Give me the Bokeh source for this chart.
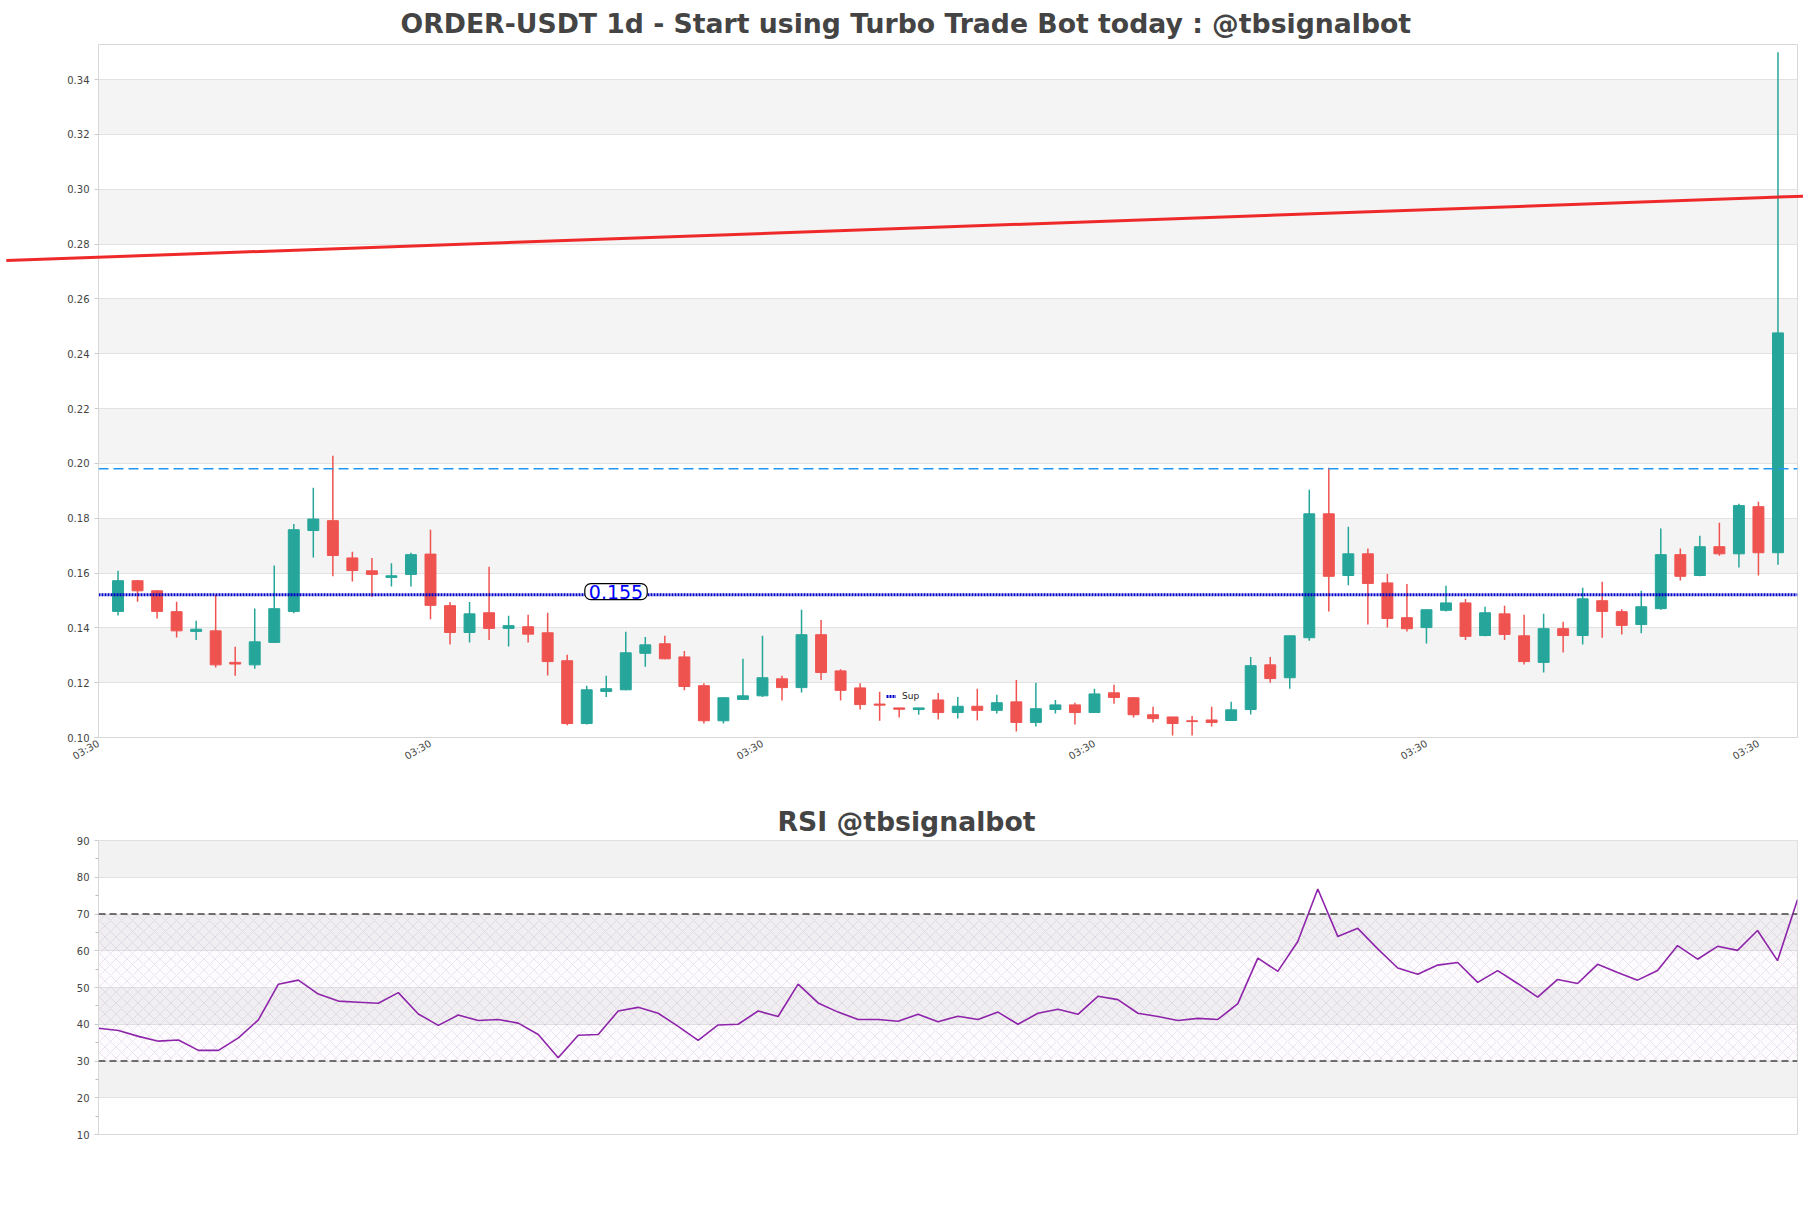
import math
from bokeh.plotting import figure
from bokeh.layouts import column
from bokeh.models import (Range1d, FixedTicker, Label, Span, Legend, LegendItem,
                          ColumnDataSource, BoxAnnotation, PrintfTickFormatter)
from bokeh.embed import file_html
from bokeh.resources import INLINE

TITLE = "ORDER-USDT 1d - Start using Turbo Trade Bot today : @tbsignalbot"
RSI_TITLE = "RSI @tbsignalbot"

opens = [0.1460, 0.1572, 0.1535, 0.1459, 0.1387, 0.1389, 0.1274, 0.1265, 0.1347, 0.1460,
         0.1755, 0.1791, 0.1655, 0.1608, 0.1584, 0.1595, 0.1669, 0.1481, 0.1383, 0.1455,
         0.1398, 0.1404, 0.1382, 0.1280, 0.1051, 0.1168, 0.1174, 0.1307, 0.1342, 0.1294,
         0.1189, 0.1061, 0.1139, 0.1152, 0.1214, 0.1182, 0.1375, 0.1243, 0.1181, 0.1122,
         0.1108, 0.1102, 0.1137, 0.1091, 0.1114, 0.1099, 0.1130, 0.1055, 0.1102, 0.1119,
         0.1091, 0.1163, 0.1145, 0.1083, 0.1075, 0.1061, 0.1064, 0.1062, 0.1102, 0.1265,
         0.1218, 0.1364, 0.1816, 0.1591, 0.1670, 0.1564, 0.1437, 0.1401, 0.1464, 0.1491,
         0.1372, 0.1451, 0.1371, 0.1274, 0.1397, 0.1372, 0.1499, 0.1459, 0.1412, 0.1470,
         0.1667, 0.1591, 0.1696, 0.1670, 0.1842, 0.1674]
highs = [0.1608, 0.1575, 0.1537, 0.1495, 0.1426, 0.1521, 0.1331, 0.1471, 0.1627, 0.1779,
         0.1911, 0.2028, 0.1678, 0.1655, 0.1636, 0.1674, 0.1758, 0.1494, 0.1494, 0.1623,
         0.1444, 0.1448, 0.1455, 0.1302, 0.1189, 0.1225, 0.1386, 0.1367, 0.1371, 0.1316,
         0.1198, 0.1148, 0.1287, 0.1371, 0.1225, 0.1466, 0.1429, 0.1249, 0.1198, 0.1167,
         0.1108, 0.1108, 0.1162, 0.1148, 0.1178, 0.1156, 0.1210, 0.1200, 0.1137, 0.1127,
         0.1178, 0.1192, 0.1148, 0.1112, 0.1075, 0.1078, 0.1112, 0.1130, 0.1294, 0.1294,
         0.1371, 0.1904, 0.1984, 0.1769, 0.1689, 0.1596, 0.1560, 0.1468, 0.1554, 0.1505,
         0.1477, 0.1481, 0.1448, 0.1451, 0.1422, 0.1546, 0.1568, 0.1468, 0.1535, 0.1762,
         0.1689, 0.1736, 0.1783, 0.1853, 0.1860, 0.3500]
lows = [0.1445, 0.1495, 0.1434, 0.1365, 0.1356, 0.1255, 0.1225, 0.1251, 0.1345, 0.1453,
        0.1657, 0.1588, 0.1569, 0.1513, 0.1551, 0.1551, 0.1431, 0.1339, 0.1347, 0.1356,
        0.1332, 0.1347, 0.1226, 0.1045, 0.1047, 0.1148, 0.1172, 0.1258, 0.1285, 0.1172,
        0.1051, 0.1051, 0.1139, 0.1148, 0.1135, 0.1164, 0.1210, 0.1135, 0.1102, 0.1061,
        0.1073, 0.1083, 0.1066, 0.1069, 0.1062, 0.1088, 0.1022, 0.1040, 0.1088, 0.1047,
        0.1091, 0.1123, 0.1073, 0.1055, 0.1007, 0.1007, 0.1040, 0.1062, 0.1084, 0.1200,
        0.1178, 0.1353, 0.1460, 0.1555, 0.1412, 0.1401, 0.1387, 0.1343, 0.1460, 0.1356,
        0.1369, 0.1356, 0.1266, 0.1237, 0.1310, 0.1339, 0.1364, 0.1376, 0.1380, 0.1466,
        0.1573, 0.1588, 0.1663, 0.1620, 0.1591, 0.1630]
closes = [0.1572, 0.1535, 0.1460, 0.1389, 0.1395, 0.1265, 0.1268, 0.1349, 0.1470, 0.1758,
          0.1797, 0.1664, 0.1609, 0.1595, 0.1590, 0.1667, 0.1482, 0.1383, 0.1451, 0.1398,
          0.1408, 0.1377, 0.1277, 0.1051, 0.1174, 0.1178, 0.1309, 0.1338, 0.1287, 0.1186,
          0.1061, 0.1145, 0.1152, 0.1218, 0.1182, 0.1375, 0.1237, 0.1172, 0.1120, 0.1118,
          0.1103, 0.1108, 0.1091, 0.1114, 0.1099, 0.1127, 0.1055, 0.1105, 0.1119, 0.1091,
          0.1159, 0.1146, 0.1083, 0.1069, 0.1051, 0.1058, 0.1055, 0.1101, 0.1262, 0.1215,
          0.1371, 0.1816, 0.1588, 0.1670, 0.1562, 0.1434, 0.1397, 0.1466, 0.1491, 0.1369,
          0.1455, 0.1376, 0.1277, 0.1397, 0.1372, 0.1506, 0.1460, 0.1409, 0.1477, 0.1667,
          0.1588, 0.1696, 0.1670, 0.1846, 0.1674, 0.2476]

x_tick_pos = [-1, 16, 33, 50, 67, 84]
x_tick_labels = ["03:30", "03:30", "03:30", "03:30", "03:30", "03:30"]
price_ticks = [0.10, 0.12, 0.14, 0.16, 0.18, 0.20, 0.22, 0.24, 0.26, 0.28, 0.30, 0.32, 0.34]

sup_level = 0.1521
sup_text = "0.155"
res_level = 0.198
trend_x = [-5.72, 86.85]
trend_y = [0.2740, 0.2976]

rsi_vals = [38.9, 38.3, 36.7, 35.4, 35.7, 32.9, 32.9, 36.3, 41.2, 50.9,
            52.0, 48.2, 46.3, 46.0, 45.7, 48.6, 42.8, 39.7, 42.5, 41.0,
            41.3, 40.3, 37.2, 30.9, 37.0, 37.2, 43.6, 44.6, 43.0, 39.4,
            35.6, 39.8, 40.0, 43.6, 42.1, 50.9, 45.8, 43.3, 41.3, 41.3,
            40.8, 42.7, 40.7, 42.2, 41.3, 43.3, 40.0, 43.0, 44.1, 42.7,
            47.6, 46.7, 43.0, 42.1, 41.0, 41.6, 41.3, 45.6, 58.0, 54.4,
            62.5, 76.8, 63.9, 66.1, 60.5, 55.3, 53.6, 56.1, 56.8, 51.4,
            54.6, 51.1, 47.4, 52.2, 51.1, 56.3, 54.1, 52.0, 54.6, 61.4,
            57.7, 61.2, 60.1, 65.5, 57.3, 73.9]
rsi_ticks = [10, 20, 30, 40, 50, 60, 70, 80, 90]
rsi_minor = [15, 25, 35, 45, 55, 65, 75, 85]
rsi_upper = 70
rsi_lower = 30

UP = "#26a69a"
DOWN = "#ef5350"
TXT = "#444444"
GRID = "#e2e2e2"
BAND = "#f4f4f4"

# canvas geometry (px)
W = 1803
H1, H2 = 788, 380
FL, FR = 98, 6          # frame borders left / right
T1, B1 = 44, 51         # main frame top / bottom borders

n = len(opens)
idx = list(range(n))
src = ColumnDataSource(dict(
    x=idx, h=highs, l=lows,
    top=[max(o, c) for o, c in zip(opens, closes)],
    bottom=[min(o, c) for o, c in zip(opens, closes)],
    color=[UP if c >= o else DOWN for o, c in zip(opens, closes)],
))


def style_title(fig, text, standoff, offset):
    fig.title.text = text
    fig.title.align = "left"
    fig.title.offset = offset
    fig.title.text_font = "DejaVu Sans"
    fig.title.text_font_style = "bold"
    fig.title.text_font_size = "26.7px"
    fig.title.text_color = TXT
    fig.title.standoff = standoff


X0, X1 = -1, 86
Y0, Y1 = 0.10, 0.3528
p = figure(width=W, height=H1, x_range=Range1d(X0, X1), y_range=Range1d(Y0, Y1),
           output_backend="svg", toolbar_location=None,
           min_border_left=FL, min_border_right=FR, min_border_top=T1, min_border_bottom=B1)
style_title(p, TITLE, 10.5, 302)
p.outline_line_color = "#d8d8d8"

p.xgrid.visible = False
p.ygrid.ticker = FixedTicker(ticks=price_ticks)
p.ygrid.grid_line_color = GRID
p.ygrid.band_fill_color = BAND
p.ygrid.band_fill_alpha = 1.0

p.yaxis.ticker = FixedTicker(ticks=price_ticks)
p.yaxis.formatter = PrintfTickFormatter(format="%.2f")
p.xaxis.ticker = FixedTicker(ticks=x_tick_pos)
p.xaxis.major_label_overrides = {t: lab for t, lab in zip(x_tick_pos, x_tick_labels)}
p.xaxis.major_label_orientation = math.pi / 6
for ax in (p.xaxis, p.yaxis):
    ax.axis_line_color = "#d8d8d8"
    ax.major_tick_line_color = "#cccccc"
    ax.minor_tick_line_color = None
    ax.major_tick_in = 0
    ax.major_tick_out = 4
    ax.major_label_text_font = "DejaVu Sans"
    ax.major_label_text_font_size = "10px"
    ax.major_label_text_color = TXT
p.xaxis.major_tick_out = 0

p.add_layout(Span(location=res_level, dimension="width", line_color="#2196f3",
                  line_width=1.5, line_dash="10 5"))

p.segment(x0="x", y0="h", x1="x", y1="l", line_color="color", line_width=1.5, source=src)
p.vbar(x="x", width=0.56, top="top", bottom="bottom", fill_color="color",
       line_color="color", line_width=1, source=src)

sup = p.line(x=[X0, X1], y=[sup_level, sup_level], line_color="#0000c8",
             line_width=3, line_dash="2 1")

p.add_layout(Label(x=25.5, y=sup_level, y_offset=3, text=sup_text, text_color="blue",
                   text_font="DejaVu Sans", text_font_size="19px",
                   text_align="center", text_baseline="middle",
                   background_fill_color="white", border_line_color="black",
                   border_line_width=1.2, border_radius=6, padding=(4, 1)))

leg = Legend(items=[LegendItem(label="Sup", renderers=[sup])], location=(788, 36),
             orientation="horizontal", background_fill_alpha=0, border_line_alpha=0,
             label_text_font_size="9px", label_text_font="DejaVu Sans",
             label_text_color="#222222", glyph_width=10, glyph_height=10,
             label_standoff=6, padding=0, margin=0, spacing=0)
p.add_layout(leg, "center")

# transparent overlay with the same data mapping as the main frame, so the
# trend line can run past the frame edges like in the original chart
fw = W - FL - FR
fh = H1 - T1 - B1
xpp = (X1 - X0) / fw
ypp = (Y1 - Y0) / fh
ov = figure(width=W, height=H1,
            x_range=Range1d(X0 - FL * xpp, X1 + FR * xpp),
            y_range=Range1d(Y0 - B1 * ypp, Y1 + T1 * ypp),
            output_backend="svg", toolbar_location=None,
            min_border_left=0, min_border_right=0, min_border_top=0, min_border_bottom=0)
ov.frame_align = False
ov.xaxis.visible = False
ov.yaxis.visible = False
ov.grid.visible = False
ov.outline_line_color = None
ov.background_fill_alpha = 0
ov.border_fill_alpha = 0
ov.line(x=trend_x, y=trend_y, line_color="#ee1d1d", line_width=3, line_alpha=0.95)
ov.styles = {"position": "absolute", "top": "0px", "left": "0px", "pointer-events": "none"}

# RSI panel
p2 = figure(width=W, height=H2, x_range=Range1d(0, n - 1), y_range=Range1d(10, 90),
            output_backend="svg", toolbar_location=None,
            min_border_left=FL, min_border_right=FR, min_border_top=52, min_border_bottom=34)
style_title(p2, RSI_TITLE, 8, 679)
p2.outline_line_color = "#d8d8d8"
p2.xgrid.visible = False
p2.xaxis.visible = False
p2.ygrid.ticker = FixedTicker(ticks=rsi_ticks)
p2.ygrid.grid_line_color = GRID
p2.ygrid.band_fill_color = "#f2f2f3"
p2.ygrid.band_fill_alpha = 1.0
p2.yaxis.ticker = FixedTicker(ticks=rsi_ticks, minor_ticks=rsi_minor)
p2.yaxis.axis_line_color = "#d8d8d8"
p2.yaxis.major_tick_line_color = "#cccccc"
p2.yaxis.minor_tick_line_color = "#bbbbbb"
p2.yaxis.major_tick_in = 0
p2.yaxis.major_tick_out = 4
p2.yaxis.minor_tick_in = 0
p2.yaxis.minor_tick_out = 3
p2.yaxis.major_label_text_font = "DejaVu Sans"
p2.yaxis.major_label_text_font_size = "10px"
p2.yaxis.major_label_text_color = TXT

p2.add_layout(BoxAnnotation(bottom=rsi_lower, top=rsi_upper, fill_color="#8e24aa",
                            fill_alpha=0.02, line_alpha=0,
                            hatch_pattern="diagonal_cross", hatch_color="#a58ab5",
                            hatch_alpha=0.35, hatch_scale=11, hatch_weight=0.6,
                            level="underlay"))
for lvl in (rsi_upper, rsi_lower):
    p2.add_layout(Span(location=lvl, dimension="width", line_color="#444444",
                       line_width=1.3, line_dash="7 4"))
p2.line(x=list(range(n)), y=rsi_vals, line_color="#8e24aa", line_width=1.6)

layout = column(p, p2, ov, spacing=0)
open("out.html", "w").write(file_html(layout, INLINE))
